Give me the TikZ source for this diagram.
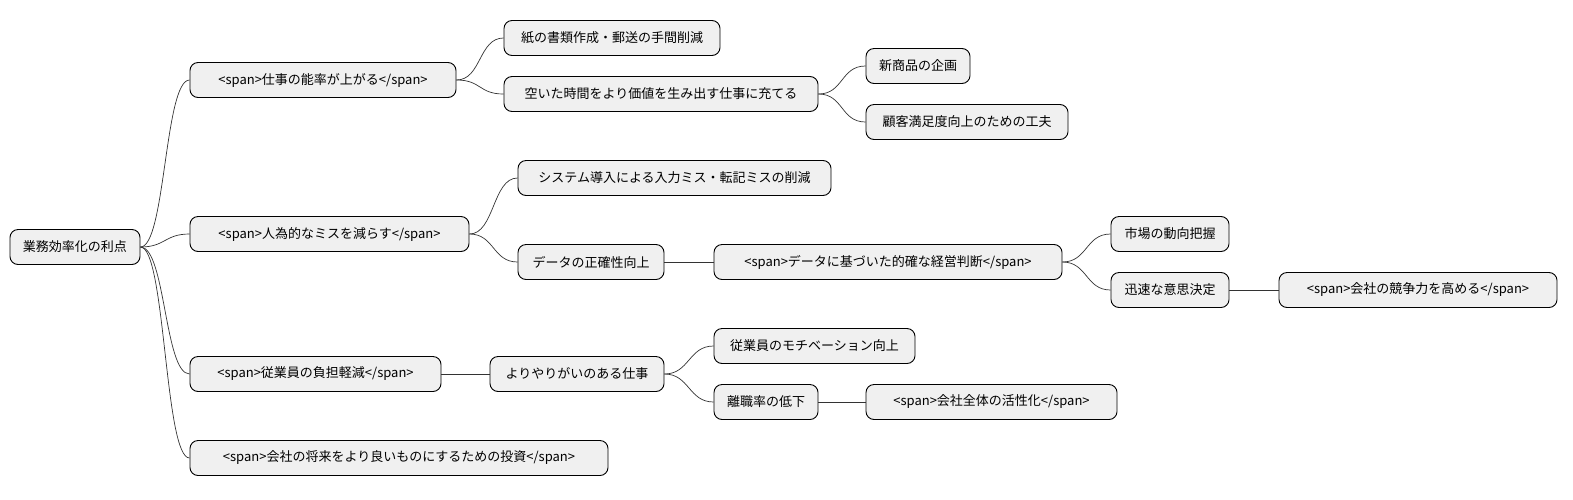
\documentclass[tikz,border=0pt]{standalone}
\usepackage{fontspec}
\setmainfont{Noto Sans CJK JP}
\begin{document}
\begin{tikzpicture}[x=1pt,y=-1pt,
  box/.style={draw=black,fill=black!6,rounded corners=8pt,minimum height=35pt,inner sep=0pt,line width=0.9pt,font=\fontsize{13}{15}\selectfont},
  link/.style={draw=black!80,line width=0.7pt}]
\useasboundingbox (0,0) rectangle (1573,499);
\newcommand{\bx}[5]{\node[box,minimum width=#3-#2] (#1) at ({(#2+#3)/2},#4) {#5};}
\bx{root}{10}{140}{247}{業務効率化の利点}
\bx{a1}{190}{456}{80}{<span>仕事の能率が上がる</span>}
\bx{a2}{190}{469}{234}{<span>人為的なミスを減らす</span>}
\bx{a3}{190}{441}{374}{<span>従業員の負担軽減</span>}
\bx{a4}{190}{608}{458}{<span>会社の将来をより良いものにするための投資</span>}
\bx{b1}{504}{720}{38}{紙の書類作成・郵送の手間削減}
\bx{b2}{504}{818}{94}{空いた時間をより価値を生み出す仕事に充てる}
\bx{c1}{866}{970}{66}{新商品の企画}
\bx{c2}{866}{1068}{122}{顧客満足度向上のための工夫}
\bx{b3}{518}{831}{178}{システム導入による入力ミス・転記ミスの削減}
\bx{b4}{518}{664}{262}{データの正確性向上}
\bx{c3}{714}{1062}{262}{<span>データに基づいた的確な経営判断</span>}
\bx{d1}{1111}{1229}{234}{市場の動向把握}
\bx{d2}{1111}{1229}{290}{迅速な意思決定}
\bx{e1}{1279}{1557}{290}{<span>会社の競争力を高める</span>}
\bx{b5}{490}{664}{374}{よりやりがいのある仕事}
\bx{c4}{714}{915}{346}{従業員のモチベーション向上}
\bx{c5}{714}{818}{402}{離職率の低下}
\bx{d3}{866}{1117}{402}{<span>会社全体の活性化</span>}
\foreach \p/\c in {root/a1,root/a2,root/a3,root/a4,a1/b1,a1/b2,b2/c1,b2/c2,a2/b3,a2/b4,b4/c3,c3/d1,c3/d2,d2/e1,a3/b5,b5/c4,b5/c5,c5/d3}
  \draw[link] (\p.east) .. controls ([xshift=25pt]\p.east) and ([xshift=-25pt]\c.west) .. (\c.west);
\end{tikzpicture}
\end{document}
